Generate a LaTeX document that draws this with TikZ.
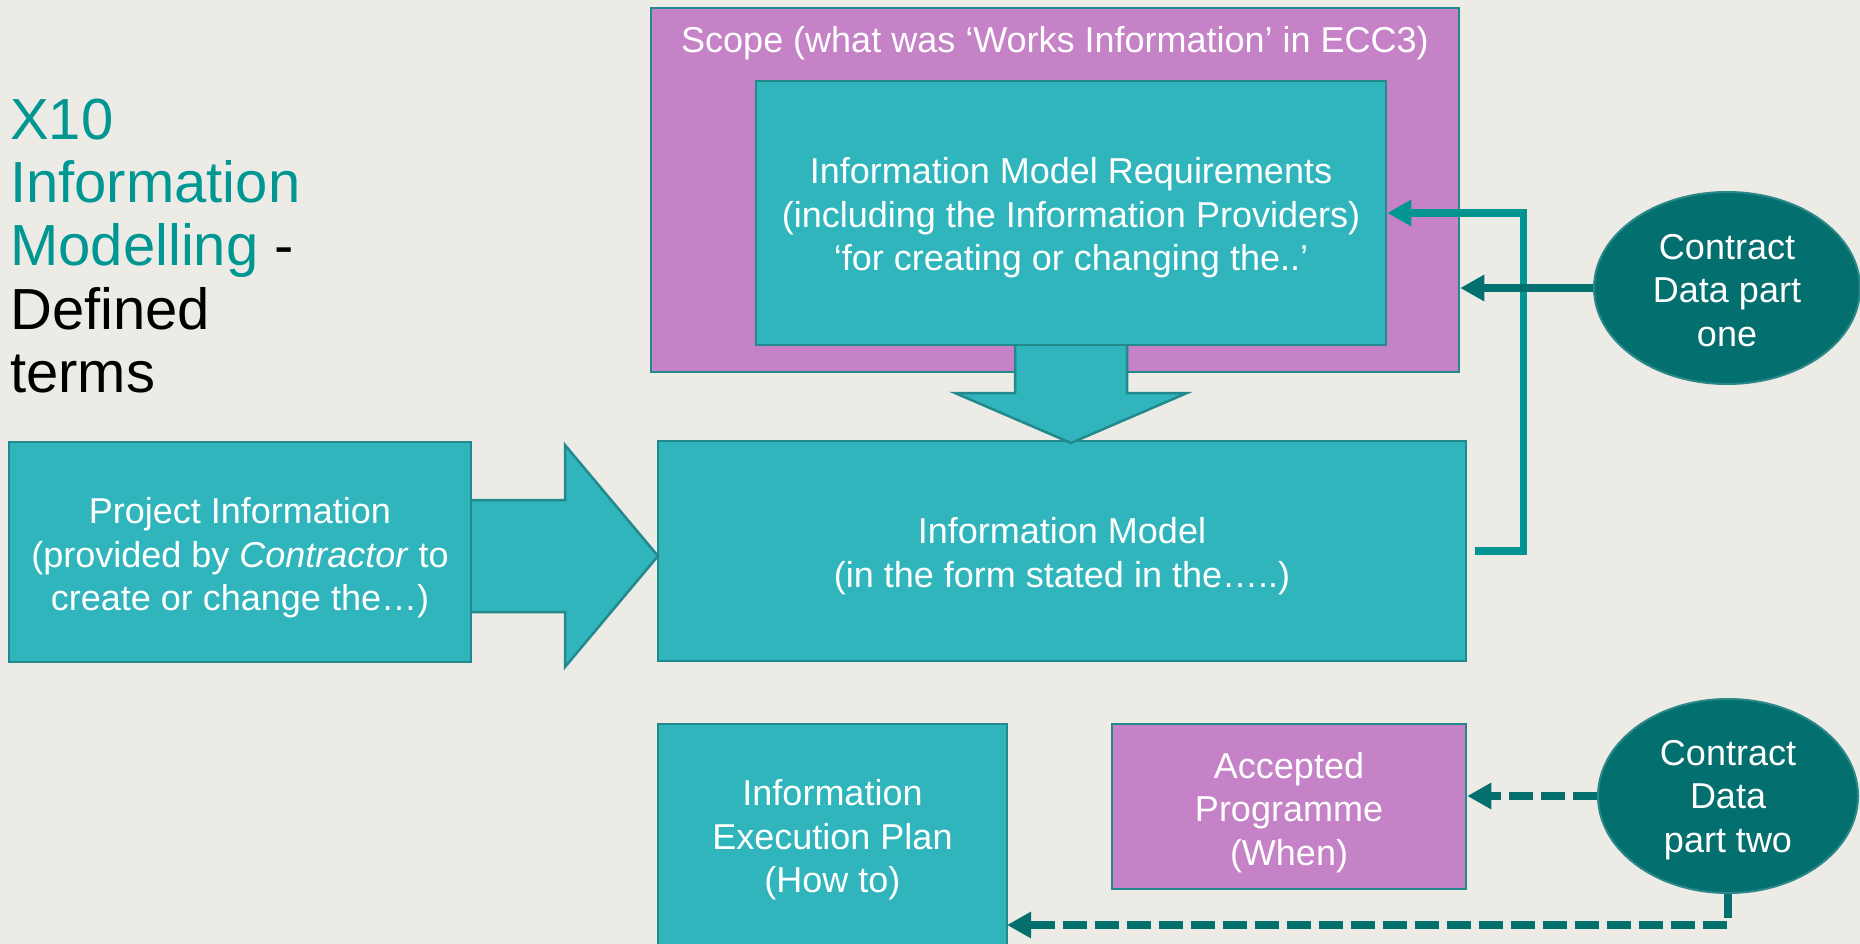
\documentclass[tikz,border=0pt]{standalone}
\usepackage{fontspec}
\setmainfont{Liberation Sans}
\usetikzlibrary{shapes.geometric,arrows.meta}
\definecolor{bg}{HTML}{ECEBE6}
\definecolor{tealfill}{HTML}{31B5BC}
\definecolor{tealborder}{HTML}{22898C}
\definecolor{purplefill}{HTML}{C682C6}
\definecolor{darkteal}{HTML}{03706F}
\definecolor{ovalborder}{HTML}{2A8888}
\definecolor{linkteal}{HTML}{009590}
\definecolor{titleteal}{HTML}{009793}
\tikzset{
  boxtxt/.style={text=white, align=center, inner sep=0pt, font=\fontsize{36}{43.5}\selectfont},
  tbox/.style={draw=tealborder, line width=2.5pt, fill=tealfill, inner sep=0pt},
  pbox/.style={draw=tealborder, line width=2.5pt, fill=purplefill, inner sep=0pt},
  oval/.style={ellipse, draw=ovalborder, line width=2pt, fill=darkteal, inner sep=0pt},
  blockarrow/.style={draw=tealborder, line width=2.5pt, fill=tealfill, line join=miter},
  link/.style={line width=7.5pt, -{Triangle[length=24pt,width=25pt]}},
  dlink/.style={link, draw=darkteal, dash pattern=on 24pt off 8pt}
}
\begin{document}
\begin{tikzpicture}[x=1pt,y=-1pt]
\fill[bg] (0,0) rectangle (1860,944);
\useasboundingbox (0,0) rectangle (1860,944);

% title
\node[anchor=north west, inner sep=0pt, align=left, font=\fontsize{58}{63.1}\selectfont] (title) at (10,99)
  {\textcolor{titleteal}{X10}\\\textcolor{titleteal}{Information}\\\textcolor{titleteal}{Modelling} -\\Defined\\terms};

% scope
\node[pbox, minimum width=808pt, minimum height=364pt] (scope) at (1055,190) {};
\node[boxtxt] (scopet) at (1055,43.5) {Scope (what was ‘Works Information’ in ECC3)};

% information model
\node[tbox, minimum width=808pt, minimum height=220pt] (im) at (1062,551) {};
\node[boxtxt] (imt) at ([yshift=-5pt]im.center) {Information Model\\(in the form stated in the…..)};

% right block arrow
\draw[blockarrow] (460,500) -- (565,500) -- (565,445) -- (658,556) -- (565,667) -- (565,612) -- (460,612) -- cycle;

% project information
\node[tbox, minimum width=462pt, minimum height=220pt] (pi) at (240,552) {};
\node[boxtxt] (pit) at ([yshift=-6pt]pi.center) {Project Information\\(provided by \textit{Contractor} to\\create or change the…)};

% down block arrow
\draw[blockarrow] (1015,335) -- (1127,335) -- (1127,393) -- (1187,393) -- (1071,443) -- (955,393) -- (1015,393) -- cycle;

% information model requirements
\node[tbox, minimum width=630pt, minimum height=264pt] (imr) at (1071,213) {};
\node[boxtxt] (imrt) at ([yshift=-5pt]imr.center) {Information Model Requirements\\(including the Information Providers)\\‘for creating or changing the..’};

% bottom boxes
\node[tbox, minimum width=349pt, minimum height=222pt] (iep) at (832.5,835) {};
\node[boxtxt] (iept) at ([yshift=-5pt]iep.center) {Information\\Execution Plan\\(How to)};
\node[pbox, minimum width=354pt, minimum height=165pt] (ap) at (1289,806.5) {};
\node[boxtxt] (apt) at ([yshift=-6pt]ap.center) {Accepted\\Programme\\(When)};

% ovals
\node[oval, minimum width=266pt, minimum height=192pt] (cd1) at (1727,288) {};
\node[boxtxt] (cd1t) at ([yshift=-2.5pt]cd1.center) {Contract\\Data part\\one};
\node[oval, minimum width=260pt, minimum height=194pt] (cd2) at (1728,796) {};
\node[boxtxt] (cd2t) at ([yshift=-4pt]cd2.center) {Contract\\Data\\part two};

% connectors
\draw[link, draw=linkteal] ([xshift=8pt]im.east) -- ++(48,0) |- (imr.east);
\draw[link, draw=darkteal] (cd1.west) -- (cd1.west -| scope.east);
\draw[dlink] (cd2.west) -- (cd2.west -| ap.east);
\coordinate (iepin) at (1007,925);
\draw[dlink] (cd2.south) |- (iepin);
\end{tikzpicture}
\end{document}
